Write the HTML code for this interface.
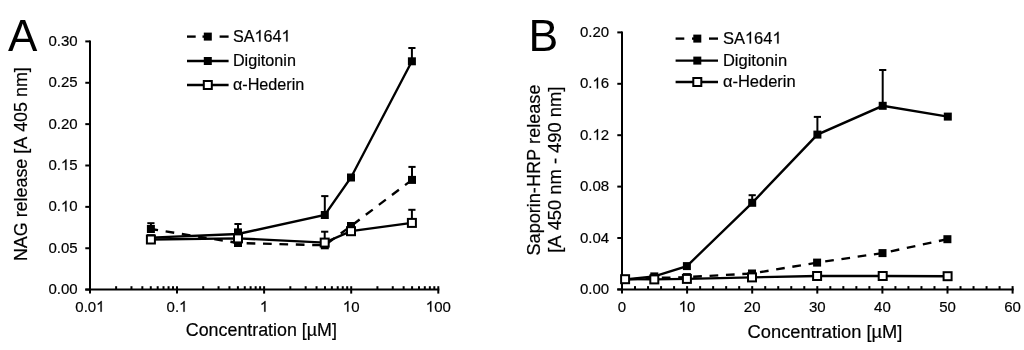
<!DOCTYPE html>
<html><head><meta charset="utf-8"><style>
html,body{margin:0;padding:0;background:#fff;width:1024px;height:350px;overflow:hidden}
svg{display:block;will-change:transform}
text{font-family:"Liberation Sans", sans-serif;fill:#000;stroke:#000;stroke-width:0.2px;font-kerning:none}
.h1{fill-opacity:0;stroke-opacity:0}
</style></head><body>
<svg width="1024" height="350" viewBox="0 0 1024 350">
<text x="8.1" y="50.8" font-size="44" style="stroke-width:0">A</text>
<text x="528.6" y="50.6" font-size="44.5" style="stroke-width:0">B</text>
<line x1="90.0" y1="40.41000000000005" x2="90.0" y2="293.6" stroke="#000" stroke-width="2.0"/>
<line x1="85.3" y1="289.6" x2="439.29999999999995" y2="289.6" stroke="#000" stroke-width="2.0"/>
<line x1="85.3" y1="289.60" x2="90.0" y2="289.60" stroke="#000" stroke-width="2.0"/>
<text x="77.6" y="294.20" font-size="15" text-anchor="end">0.00</text>
<line x1="85.3" y1="248.24" x2="90.0" y2="248.24" stroke="#000" stroke-width="2.0"/>
<text x="77.6" y="252.84" font-size="15" text-anchor="end">0.05</text>
<line x1="85.3" y1="206.87" x2="90.0" y2="206.87" stroke="#000" stroke-width="2.0"/>
<text id="t0" x="77.6" y="211.47" font-size="15" text-anchor="end">0.<tspan class="h1">1</tspan>0</text>
<line x1="85.3" y1="165.50" x2="90.0" y2="165.50" stroke="#000" stroke-width="2.0"/>
<text id="t1" x="77.6" y="170.10" font-size="15" text-anchor="end">0.<tspan class="h1">1</tspan>5</text>
<line x1="85.3" y1="124.14" x2="90.0" y2="124.14" stroke="#000" stroke-width="2.0"/>
<text x="77.6" y="128.74" font-size="15" text-anchor="end">0.20</text>
<line x1="85.3" y1="82.78" x2="90.0" y2="82.78" stroke="#000" stroke-width="2.0"/>
<text x="77.6" y="87.38" font-size="15" text-anchor="end">0.25</text>
<line x1="85.3" y1="41.41" x2="90.0" y2="41.41" stroke="#000" stroke-width="2.0"/>
<text x="77.6" y="46.01" font-size="15" text-anchor="end">0.30</text>
<line x1="116.12" y1="286.2" x2="116.12" y2="289.6" stroke="#000" stroke-width="2.0"/>
<line x1="131.46" y1="286.2" x2="131.46" y2="289.6" stroke="#000" stroke-width="2.0"/>
<line x1="142.34" y1="286.2" x2="142.34" y2="289.6" stroke="#000" stroke-width="2.0"/>
<line x1="150.78" y1="286.2" x2="150.78" y2="289.6" stroke="#000" stroke-width="2.0"/>
<line x1="157.68" y1="286.2" x2="157.68" y2="289.6" stroke="#000" stroke-width="2.0"/>
<line x1="163.51" y1="286.2" x2="163.51" y2="289.6" stroke="#000" stroke-width="2.0"/>
<line x1="168.56" y1="286.2" x2="168.56" y2="289.6" stroke="#000" stroke-width="2.0"/>
<line x1="173.01" y1="286.2" x2="173.01" y2="289.6" stroke="#000" stroke-width="2.0"/>
<line x1="203.22" y1="286.2" x2="203.22" y2="289.6" stroke="#000" stroke-width="2.0"/>
<line x1="218.56" y1="286.2" x2="218.56" y2="289.6" stroke="#000" stroke-width="2.0"/>
<line x1="229.44" y1="286.2" x2="229.44" y2="289.6" stroke="#000" stroke-width="2.0"/>
<line x1="237.88" y1="286.2" x2="237.88" y2="289.6" stroke="#000" stroke-width="2.0"/>
<line x1="244.78" y1="286.2" x2="244.78" y2="289.6" stroke="#000" stroke-width="2.0"/>
<line x1="250.61" y1="286.2" x2="250.61" y2="289.6" stroke="#000" stroke-width="2.0"/>
<line x1="255.66" y1="286.2" x2="255.66" y2="289.6" stroke="#000" stroke-width="2.0"/>
<line x1="260.11" y1="286.2" x2="260.11" y2="289.6" stroke="#000" stroke-width="2.0"/>
<line x1="290.32" y1="286.2" x2="290.32" y2="289.6" stroke="#000" stroke-width="2.0"/>
<line x1="305.66" y1="286.2" x2="305.66" y2="289.6" stroke="#000" stroke-width="2.0"/>
<line x1="316.54" y1="286.2" x2="316.54" y2="289.6" stroke="#000" stroke-width="2.0"/>
<line x1="324.98" y1="286.2" x2="324.98" y2="289.6" stroke="#000" stroke-width="2.0"/>
<line x1="331.88" y1="286.2" x2="331.88" y2="289.6" stroke="#000" stroke-width="2.0"/>
<line x1="337.71" y1="286.2" x2="337.71" y2="289.6" stroke="#000" stroke-width="2.0"/>
<line x1="342.76" y1="286.2" x2="342.76" y2="289.6" stroke="#000" stroke-width="2.0"/>
<line x1="347.21" y1="286.2" x2="347.21" y2="289.6" stroke="#000" stroke-width="2.0"/>
<line x1="377.42" y1="286.2" x2="377.42" y2="289.6" stroke="#000" stroke-width="2.0"/>
<line x1="392.76" y1="286.2" x2="392.76" y2="289.6" stroke="#000" stroke-width="2.0"/>
<line x1="403.64" y1="286.2" x2="403.64" y2="289.6" stroke="#000" stroke-width="2.0"/>
<line x1="412.08" y1="286.2" x2="412.08" y2="289.6" stroke="#000" stroke-width="2.0"/>
<line x1="418.98" y1="286.2" x2="418.98" y2="289.6" stroke="#000" stroke-width="2.0"/>
<line x1="424.81" y1="286.2" x2="424.81" y2="289.6" stroke="#000" stroke-width="2.0"/>
<line x1="429.86" y1="286.2" x2="429.86" y2="289.6" stroke="#000" stroke-width="2.0"/>
<line x1="434.31" y1="286.2" x2="434.31" y2="289.6" stroke="#000" stroke-width="2.0"/>
<text id="t2" x="89.90" y="311.7" font-size="15" text-anchor="middle">0.0<tspan class="h1">1</tspan></text>
<line x1="177.00" y1="286.2" x2="177.00" y2="293.6" stroke="#000" stroke-width="2.0"/>
<text id="t3" x="177.00" y="311.7" font-size="15" text-anchor="middle">0.<tspan class="h1">1</tspan></text>
<line x1="264.10" y1="286.2" x2="264.10" y2="293.6" stroke="#000" stroke-width="2.0"/>
<text id="t4" x="264.10" y="311.7" font-size="15" text-anchor="middle"><tspan class="h1">1</tspan></text>
<line x1="351.20" y1="286.2" x2="351.20" y2="293.6" stroke="#000" stroke-width="2.0"/>
<text id="t5" x="351.20" y="311.7" font-size="15" text-anchor="middle"><tspan class="h1">1</tspan>0</text>
<line x1="438.30" y1="286.2" x2="438.30" y2="293.6" stroke="#000" stroke-width="2.0"/>
<text id="t6" x="438.30" y="311.7" font-size="15" text-anchor="middle"><tspan class="h1">1</tspan>00</text>
<text x="185.8" y="336" font-size="17.85">Concentration [µM]</text>
<text transform="translate(26.6,261.1) rotate(-90)" font-size="17.9">NAG release [A 405 nm]</text>
<line x1="622.0" y1="31.399999999999977" x2="622.0" y2="293.6" stroke="#000" stroke-width="2.0"/>
<line x1="617.3" y1="289.4" x2="1013.5999999999999" y2="289.4" stroke="#000" stroke-width="2.0"/>
<line x1="617.3" y1="289.40" x2="622.0" y2="289.40" stroke="#000" stroke-width="2.0"/>
<text x="609.2" y="294.00" font-size="15" text-anchor="end">0.00</text>
<line x1="617.3" y1="238.00" x2="622.0" y2="238.00" stroke="#000" stroke-width="2.0"/>
<text x="609.2" y="242.60" font-size="15" text-anchor="end">0.04</text>
<line x1="617.3" y1="186.60" x2="622.0" y2="186.60" stroke="#000" stroke-width="2.0"/>
<text x="609.2" y="191.20" font-size="15" text-anchor="end">0.08</text>
<line x1="617.3" y1="135.20" x2="622.0" y2="135.20" stroke="#000" stroke-width="2.0"/>
<text id="t7" x="609.2" y="139.80" font-size="15" text-anchor="end">0.<tspan class="h1">1</tspan>2</text>
<line x1="617.3" y1="83.80" x2="622.0" y2="83.80" stroke="#000" stroke-width="2.0"/>
<text id="t8" x="609.2" y="88.40" font-size="15" text-anchor="end">0.<tspan class="h1">1</tspan>6</text>
<line x1="617.3" y1="32.40" x2="622.0" y2="32.40" stroke="#000" stroke-width="2.0"/>
<text x="609.2" y="37.00" font-size="15" text-anchor="end">0.20</text>
<text x="622.00" y="311.7" font-size="15" text-anchor="middle">0</text>
<line x1="635.02" y1="286.1" x2="635.02" y2="289.4" stroke="#000" stroke-width="2.0"/>
<line x1="648.04" y1="286.1" x2="648.04" y2="289.4" stroke="#000" stroke-width="2.0"/>
<line x1="661.06" y1="286.1" x2="661.06" y2="289.4" stroke="#000" stroke-width="2.0"/>
<line x1="674.08" y1="286.1" x2="674.08" y2="289.4" stroke="#000" stroke-width="2.0"/>
<line x1="687.10" y1="286.1" x2="687.10" y2="293.6" stroke="#000" stroke-width="2.0"/>
<text id="t9" x="687.10" y="311.7" font-size="15" text-anchor="middle"><tspan class="h1">1</tspan>0</text>
<line x1="700.12" y1="286.1" x2="700.12" y2="289.4" stroke="#000" stroke-width="2.0"/>
<line x1="713.14" y1="286.1" x2="713.14" y2="289.4" stroke="#000" stroke-width="2.0"/>
<line x1="726.16" y1="286.1" x2="726.16" y2="289.4" stroke="#000" stroke-width="2.0"/>
<line x1="739.18" y1="286.1" x2="739.18" y2="289.4" stroke="#000" stroke-width="2.0"/>
<line x1="752.20" y1="286.1" x2="752.20" y2="293.6" stroke="#000" stroke-width="2.0"/>
<text x="752.20" y="311.7" font-size="15" text-anchor="middle">20</text>
<line x1="765.22" y1="286.1" x2="765.22" y2="289.4" stroke="#000" stroke-width="2.0"/>
<line x1="778.24" y1="286.1" x2="778.24" y2="289.4" stroke="#000" stroke-width="2.0"/>
<line x1="791.26" y1="286.1" x2="791.26" y2="289.4" stroke="#000" stroke-width="2.0"/>
<line x1="804.28" y1="286.1" x2="804.28" y2="289.4" stroke="#000" stroke-width="2.0"/>
<line x1="817.30" y1="286.1" x2="817.30" y2="293.6" stroke="#000" stroke-width="2.0"/>
<text x="817.30" y="311.7" font-size="15" text-anchor="middle">30</text>
<line x1="830.32" y1="286.1" x2="830.32" y2="289.4" stroke="#000" stroke-width="2.0"/>
<line x1="843.34" y1="286.1" x2="843.34" y2="289.4" stroke="#000" stroke-width="2.0"/>
<line x1="856.36" y1="286.1" x2="856.36" y2="289.4" stroke="#000" stroke-width="2.0"/>
<line x1="869.38" y1="286.1" x2="869.38" y2="289.4" stroke="#000" stroke-width="2.0"/>
<line x1="882.40" y1="286.1" x2="882.40" y2="293.6" stroke="#000" stroke-width="2.0"/>
<text x="882.40" y="311.7" font-size="15" text-anchor="middle">40</text>
<line x1="895.42" y1="286.1" x2="895.42" y2="289.4" stroke="#000" stroke-width="2.0"/>
<line x1="908.44" y1="286.1" x2="908.44" y2="289.4" stroke="#000" stroke-width="2.0"/>
<line x1="921.46" y1="286.1" x2="921.46" y2="289.4" stroke="#000" stroke-width="2.0"/>
<line x1="934.48" y1="286.1" x2="934.48" y2="289.4" stroke="#000" stroke-width="2.0"/>
<line x1="947.50" y1="286.1" x2="947.50" y2="293.6" stroke="#000" stroke-width="2.0"/>
<text x="947.50" y="311.7" font-size="15" text-anchor="middle">50</text>
<line x1="960.52" y1="286.1" x2="960.52" y2="289.4" stroke="#000" stroke-width="2.0"/>
<line x1="973.54" y1="286.1" x2="973.54" y2="289.4" stroke="#000" stroke-width="2.0"/>
<line x1="986.56" y1="286.1" x2="986.56" y2="289.4" stroke="#000" stroke-width="2.0"/>
<line x1="999.58" y1="286.1" x2="999.58" y2="289.4" stroke="#000" stroke-width="2.0"/>
<line x1="1012.60" y1="286.1" x2="1012.60" y2="293.6" stroke="#000" stroke-width="2.0"/>
<text x="1012.60" y="311.7" font-size="15" text-anchor="middle">60</text>
<text x="747.6" y="338" font-size="18.3">Concentration [µM]</text>
<text transform="translate(540.4,255.5) rotate(-90)" font-size="18.1">Saporin-HRP release</text>
<text transform="translate(560.8,252.8) rotate(-90)" font-size="18.35">[A 450 nm - 490 nm]</text>
<line x1="238.00" y1="243.00" x2="150.90" y2="229.00" stroke="#000" stroke-width="2.35" stroke-dasharray="8.7 7.7" stroke-dashoffset="1.0"/>
<line x1="324.80" y1="245.30" x2="238.00" y2="243.00" stroke="#000" stroke-width="2.35" stroke-dasharray="8.7 7.7" stroke-dashoffset="-3.9"/>
<line x1="351.00" y1="226.00" x2="324.80" y2="245.30" stroke="#000" stroke-width="2.35" stroke-dasharray="8.7 7.7" stroke-dashoffset="-4.0"/>
<line x1="412.00" y1="179.90" x2="351.00" y2="226.00" stroke="#000" stroke-width="2.35" stroke-dasharray="8.7 7.7" stroke-dashoffset="0"/>
<line x1="150.90" y1="229.00" x2="150.90" y2="223.20" stroke="#000" stroke-width="2"/>
<line x1="147.30" y1="223.20" x2="154.50" y2="223.20" stroke="#000" stroke-width="2"/>
<line x1="412.00" y1="179.90" x2="412.00" y2="166.90" stroke="#000" stroke-width="2"/>
<line x1="408.40" y1="166.90" x2="415.60" y2="166.90" stroke="#000" stroke-width="2"/>
<rect x="146.90" y="225.00" width="8" height="8" fill="#000"/>
<rect x="234.00" y="239.00" width="8" height="8" fill="#000"/>
<rect x="320.80" y="241.30" width="8" height="8" fill="#000"/>
<rect x="347.00" y="222.00" width="8" height="8" fill="#000"/>
<rect x="408.00" y="175.90" width="8" height="8" fill="#000"/>
<polyline points="150.90,237.70 238.00,234.00 324.80,215.00 351.00,177.50 411.90,61.30" fill="none" stroke="#000" stroke-width="2.35"/>
<line x1="238.00" y1="232.40" x2="238.00" y2="224.00" stroke="#000" stroke-width="2"/>
<line x1="234.40" y1="224.00" x2="241.60" y2="224.00" stroke="#000" stroke-width="2"/>
<line x1="324.80" y1="215.00" x2="324.80" y2="196.10" stroke="#000" stroke-width="2"/>
<line x1="321.20" y1="196.10" x2="328.40" y2="196.10" stroke="#000" stroke-width="2"/>
<line x1="411.90" y1="61.30" x2="411.90" y2="48.00" stroke="#000" stroke-width="2"/>
<line x1="408.30" y1="48.00" x2="415.50" y2="48.00" stroke="#000" stroke-width="2"/>
<rect x="146.90" y="234.20" width="8" height="8" fill="#000"/>
<rect x="234.00" y="228.40" width="8" height="8" fill="#000"/>
<rect x="320.80" y="211.00" width="8" height="8" fill="#000"/>
<rect x="347.00" y="173.50" width="8" height="8" fill="#000"/>
<rect x="407.90" y="57.30" width="8" height="8" fill="#000"/>
<polyline points="150.90,239.50 238.00,238.40 324.70,242.60 351.00,231.20 411.90,222.90" fill="none" stroke="#000" stroke-width="2.35"/>
<line x1="324.70" y1="242.60" x2="324.70" y2="231.70" stroke="#000" stroke-width="2"/>
<line x1="321.10" y1="231.70" x2="328.30" y2="231.70" stroke="#000" stroke-width="2"/>
<line x1="411.90" y1="222.90" x2="411.90" y2="209.80" stroke="#000" stroke-width="2"/>
<line x1="408.30" y1="209.80" x2="415.50" y2="209.80" stroke="#000" stroke-width="2"/>
<rect x="146.90" y="235.50" width="8" height="8" fill="#fff" stroke="#000" stroke-width="2"/>
<rect x="234.00" y="234.40" width="8" height="8" fill="#fff" stroke="#000" stroke-width="2"/>
<rect x="320.70" y="238.60" width="8" height="8" fill="#fff" stroke="#000" stroke-width="2"/>
<rect x="347.00" y="227.20" width="8" height="8" fill="#fff" stroke="#000" stroke-width="2"/>
<rect x="407.90" y="218.90" width="8" height="8" fill="#fff" stroke="#000" stroke-width="2"/>
<line x1="654.30" y1="278.00" x2="625.10" y2="279.60" stroke="#000" stroke-width="2.35" stroke-dasharray="8.7 7.7" stroke-dashoffset="0"/>
<line x1="686.90" y1="277.10" x2="654.30" y2="278.00" stroke="#000" stroke-width="2.35" stroke-dasharray="8.7 7.7" stroke-dashoffset="0"/>
<line x1="752.00" y1="273.50" x2="686.90" y2="277.10" stroke="#000" stroke-width="2.35" stroke-dasharray="8.7 7.7" stroke-dashoffset="-1.0"/>
<line x1="817.10" y1="262.60" x2="752.00" y2="273.50" stroke="#000" stroke-width="2.35" stroke-dasharray="8.7 7.7" stroke-dashoffset="0"/>
<line x1="882.50" y1="253.10" x2="817.10" y2="262.60" stroke="#000" stroke-width="2.35" stroke-dasharray="8.7 7.7" stroke-dashoffset="0"/>
<line x1="947.40" y1="239.20" x2="882.50" y2="253.10" stroke="#000" stroke-width="2.35" stroke-dasharray="8.7 7.7" stroke-dashoffset="0"/>
<rect x="621.10" y="275.60" width="8" height="8" fill="#000"/>
<rect x="650.30" y="274.00" width="8" height="8" fill="#000"/>
<rect x="682.90" y="273.10" width="8" height="8" fill="#000"/>
<rect x="748.00" y="269.50" width="8" height="8" fill="#000"/>
<rect x="813.10" y="258.60" width="8" height="8" fill="#000"/>
<rect x="878.50" y="249.10" width="8" height="8" fill="#000"/>
<rect x="943.40" y="235.20" width="8" height="8" fill="#000"/>
<polyline points="625.10,279.40 654.30,276.40 686.90,266.10 752.20,202.80 817.40,134.60 882.70,105.80 947.80,116.60" fill="none" stroke="#000" stroke-width="2.35"/>
<line x1="752.20" y1="202.80" x2="752.20" y2="195.20" stroke="#000" stroke-width="2"/>
<line x1="748.60" y1="195.20" x2="755.80" y2="195.20" stroke="#000" stroke-width="2"/>
<line x1="817.40" y1="134.60" x2="817.40" y2="116.90" stroke="#000" stroke-width="2"/>
<line x1="813.80" y1="116.90" x2="821.00" y2="116.90" stroke="#000" stroke-width="2"/>
<line x1="882.70" y1="105.80" x2="882.70" y2="70.00" stroke="#000" stroke-width="2"/>
<line x1="879.10" y1="70.00" x2="886.30" y2="70.00" stroke="#000" stroke-width="2"/>
<rect x="621.10" y="275.40" width="8" height="8" fill="#000"/>
<rect x="650.30" y="272.40" width="8" height="8" fill="#000"/>
<rect x="682.90" y="262.10" width="8" height="8" fill="#000"/>
<rect x="748.20" y="198.80" width="8" height="8" fill="#000"/>
<rect x="813.40" y="130.60" width="8" height="8" fill="#000"/>
<rect x="878.70" y="101.80" width="8" height="8" fill="#000"/>
<rect x="943.80" y="112.60" width="8" height="8" fill="#000"/>
<polyline points="625.10,279.20 654.30,279.40 686.90,278.90 752.00,277.40 817.10,276.00 882.70,276.00 947.60,276.20" fill="none" stroke="#000" stroke-width="2.35"/>
<rect x="621.10" y="275.20" width="8" height="8" fill="#fff" stroke="#000" stroke-width="2"/>
<rect x="650.30" y="275.40" width="8" height="8" fill="#fff" stroke="#000" stroke-width="2"/>
<rect x="682.90" y="274.90" width="8" height="8" fill="#fff" stroke="#000" stroke-width="2"/>
<rect x="748.00" y="273.40" width="8" height="8" fill="#fff" stroke="#000" stroke-width="2"/>
<rect x="813.10" y="272.00" width="8" height="8" fill="#fff" stroke="#000" stroke-width="2"/>
<rect x="878.70" y="272.00" width="8" height="8" fill="#fff" stroke="#000" stroke-width="2"/>
<rect x="943.60" y="272.20" width="8" height="8" fill="#fff" stroke="#000" stroke-width="2"/>
<line x1="187.0" y1="36.6" x2="195.70" y2="36.6" stroke="#000" stroke-width="2.35"/>
<line x1="219.60" y1="36.6" x2="228.6" y2="36.6" stroke="#000" stroke-width="2.35"/>
<line x1="202.50" y1="36.6" x2="210.80" y2="36.6" stroke="#000" stroke-width="2.35"/>
<rect x="203.80" y="32.60" width="8" height="8" fill="#000"/>
<text id="t10" x="232.9" y="41.60" font-size="16.2">SA<tspan class="h1">1</tspan>64<tspan class="h1">1</tspan></text>
<line x1="187.0" y1="61.0" x2="228.6" y2="61.0" stroke="#000" stroke-width="2.35"/>
<rect x="203.80" y="57.00" width="8" height="8" fill="#000"/>
<text x="232.9" y="66.00" font-size="16.2">Digitonin</text>
<line x1="187.0" y1="85.0" x2="228.6" y2="85.0" stroke="#000" stroke-width="2.35"/>
<rect x="203.80" y="81.00" width="8" height="8" fill="#fff" stroke="#000" stroke-width="2"/>
<text x="232.9" y="90.00" font-size="16.2">α-Hederin</text>
<line x1="675.6" y1="38.6" x2="684.30" y2="38.6" stroke="#000" stroke-width="2.35"/>
<line x1="709.00" y1="38.6" x2="718.0" y2="38.6" stroke="#000" stroke-width="2.35"/>
<line x1="692.00" y1="38.6" x2="700.30" y2="38.6" stroke="#000" stroke-width="2.35"/>
<rect x="693.30" y="34.60" width="8" height="8" fill="#000"/>
<text id="t11" x="722.9" y="43.60" font-size="16.5">SA<tspan class="h1">1</tspan>64<tspan class="h1">1</tspan></text>
<line x1="675.6" y1="60.6" x2="718.0" y2="60.6" stroke="#000" stroke-width="2.35"/>
<rect x="693.30" y="56.60" width="8" height="8" fill="#000"/>
<text x="722.9" y="65.60" font-size="16.5">Digitonin</text>
<line x1="675.6" y1="82.0" x2="718.0" y2="82.0" stroke="#000" stroke-width="2.35"/>
<rect x="693.30" y="78.00" width="8" height="8" fill="#fff" stroke="#000" stroke-width="2"/>
<text x="722.9" y="87.00" font-size="16.5">α-Hederin</text>
<path d="M763,0 L583,0 L583,1147 Q518,1085 415,1024.5 Q312,964 223,930 L223,1104 Q375,1176 487,1276 Q599,1376 647,1472 L763,1472 Z" transform="translate(60.912,211.470) scale(0.007324,-0.007324)" fill="#000" stroke="#000" stroke-width="27.31"/>
<path d="M763,0 L583,0 L583,1147 Q518,1085 415,1024.5 Q312,964 223,930 L223,1104 Q375,1176 487,1276 Q599,1376 647,1472 L763,1472 Z" transform="translate(60.912,170.100) scale(0.007324,-0.007324)" fill="#000" stroke="#000" stroke-width="27.31"/>
<path d="M763,0 L583,0 L583,1147 Q518,1085 415,1024.5 Q312,964 223,930 L223,1104 Q375,1176 487,1276 Q599,1376 647,1472 L763,1472 Z" transform="translate(96.158,311.700) scale(0.007324,-0.007324)" fill="#000" stroke="#000" stroke-width="27.31"/>
<path d="M763,0 L583,0 L583,1147 Q518,1085 415,1024.5 Q312,964 223,930 L223,1104 Q375,1176 487,1276 Q599,1376 647,1472 L763,1472 Z" transform="translate(179.086,311.700) scale(0.007324,-0.007324)" fill="#000" stroke="#000" stroke-width="27.31"/>
<path d="M763,0 L583,0 L583,1147 Q518,1085 415,1024.5 Q312,964 223,930 L223,1104 Q375,1176 487,1276 Q599,1376 647,1472 L763,1472 Z" transform="translate(259.928,311.700) scale(0.007324,-0.007324)" fill="#000" stroke="#000" stroke-width="27.31"/>
<path d="M763,0 L583,0 L583,1147 Q518,1085 415,1024.5 Q312,964 223,930 L223,1104 Q375,1176 487,1276 Q599,1376 647,1472 L763,1472 Z" transform="translate(342.856,311.700) scale(0.007324,-0.007324)" fill="#000" stroke="#000" stroke-width="27.31"/>
<path d="M763,0 L583,0 L583,1147 Q518,1085 415,1024.5 Q312,964 223,930 L223,1104 Q375,1176 487,1276 Q599,1376 647,1472 L763,1472 Z" transform="translate(425.784,311.700) scale(0.007324,-0.007324)" fill="#000" stroke="#000" stroke-width="27.31"/>
<path d="M763,0 L583,0 L583,1147 Q518,1085 415,1024.5 Q312,964 223,930 L223,1104 Q375,1176 487,1276 Q599,1376 647,1472 L763,1472 Z" transform="translate(592.513,139.800) scale(0.007324,-0.007324)" fill="#000" stroke="#000" stroke-width="27.31"/>
<path d="M763,0 L583,0 L583,1147 Q518,1085 415,1024.5 Q312,964 223,930 L223,1104 Q375,1176 487,1276 Q599,1376 647,1472 L763,1472 Z" transform="translate(592.513,88.400) scale(0.007324,-0.007324)" fill="#000" stroke="#000" stroke-width="27.31"/>
<path d="M763,0 L583,0 L583,1147 Q518,1085 415,1024.5 Q312,964 223,930 L223,1104 Q375,1176 487,1276 Q599,1376 647,1472 L763,1472 Z" transform="translate(678.756,311.700) scale(0.007324,-0.007324)" fill="#000" stroke="#000" stroke-width="27.31"/>
<path d="M763,0 L583,0 L583,1147 Q518,1085 415,1024.5 Q312,964 223,930 L223,1104 Q375,1176 487,1276 Q599,1376 647,1472 L763,1472 Z" transform="translate(254.509,41.600) scale(0.007910,-0.007910)" fill="#000" stroke="#000" stroke-width="25.28"/>
<path d="M763,0 L583,0 L583,1147 Q518,1085 415,1024.5 Q312,964 223,930 L223,1104 Q375,1176 487,1276 Q599,1376 647,1472 L763,1472 Z" transform="translate(281.541,41.600) scale(0.007910,-0.007910)" fill="#000" stroke="#000" stroke-width="25.28"/>
<path d="M763,0 L583,0 L583,1147 Q518,1085 415,1024.5 Q312,964 223,930 L223,1104 Q375,1176 487,1276 Q599,1376 647,1472 L763,1472 Z" transform="translate(744.916,43.600) scale(0.008057,-0.008057)" fill="#000" stroke="#000" stroke-width="24.82"/>
<path d="M763,0 L583,0 L583,1147 Q518,1085 415,1024.5 Q312,964 223,930 L223,1104 Q375,1176 487,1276 Q599,1376 647,1472 L763,1472 Z" transform="translate(772.463,43.600) scale(0.008057,-0.008057)" fill="#000" stroke="#000" stroke-width="24.82"/>
</svg>
</body></html>
